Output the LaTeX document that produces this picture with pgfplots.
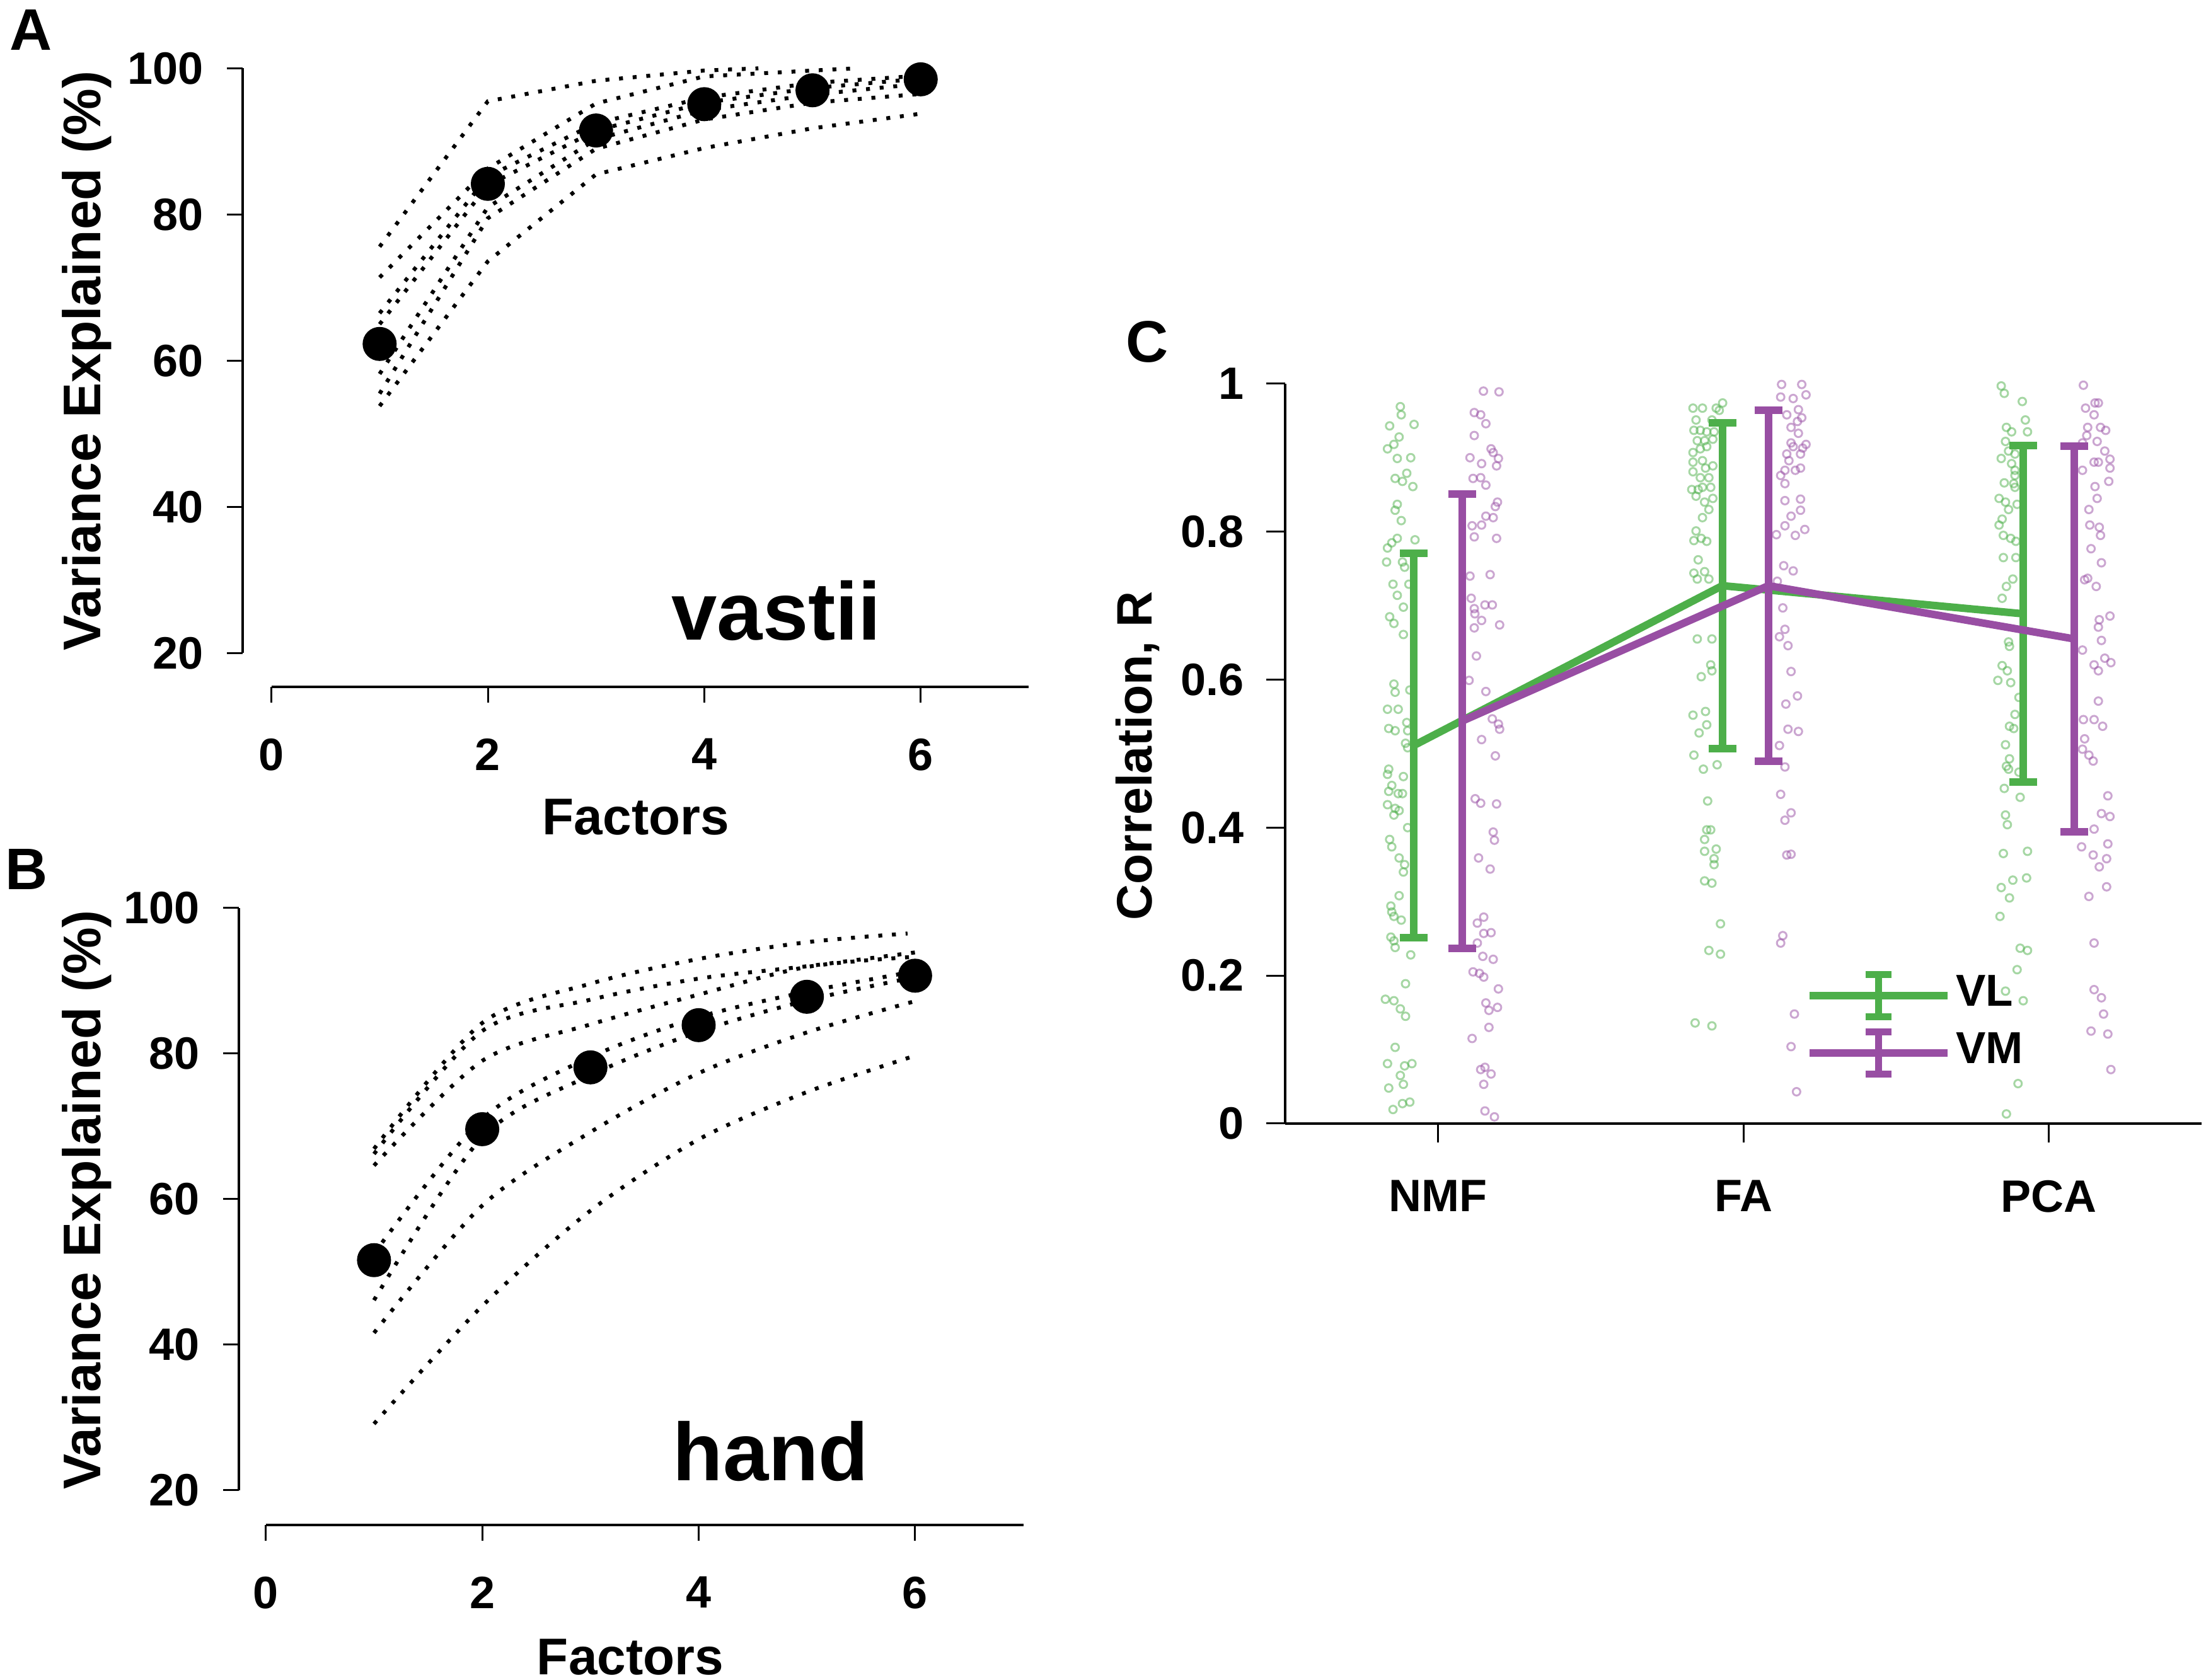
\documentclass[border=0pt]{standalone}
\usepackage{fontspec}
\setmainfont{Liberation Sans}
\usepackage{pgfplots}
\usepackage{pgfplotstable}
\pgfplotsset{compat=1.18}
\definecolor{vlgreen}{HTML}{4DAF4A}
\definecolor{vmpurple}{HTML}{984EA3}

% ---------- jittered raw correlations (panel C) ----------
\pgfplotstableread{
x y
0.877 0.969
0.880 0.958
0.842 0.943
0.922 0.945
0.873 0.928
0.856 0.918
0.835 0.912
0.867 0.899
0.911 0.900
0.898 0.879
0.860 0.872
0.884 0.868
0.918 0.861
0.867 0.837
0.860 0.829
0.880 0.815
0.925 0.789
0.867 0.791
0.849 0.785
0.835 0.778
0.832 0.759
0.884 0.759
0.891 0.752
0.853 0.729
0.905 0.729
0.867 0.714
0.887 0.698
0.842 0.685
0.856 0.676
0.887 0.661
0.856 0.594
0.860 0.583
0.908 0.586
0.835 0.560
0.870 0.560
0.839 0.534
0.860 0.531
0.898 0.542
0.901 0.531
0.894 0.514
0.901 0.508
0.839 0.479
0.835 0.472
0.887 0.469
0.849 0.457
0.839 0.449
0.870 0.446
0.884 0.446
0.835 0.431
0.860 0.426
0.873 0.423
0.856 0.417
0.901 0.400
0.842 0.384
0.849 0.374
0.873 0.359
0.891 0.350
0.887 0.340
0.873 0.308
0.846 0.294
0.849 0.286
0.856 0.280
0.880 0.275
0.846 0.252
0.856 0.247
0.860 0.238
0.911 0.228
0.894 0.189
0.828 0.168
0.856 0.166
0.877 0.155
0.894 0.145
0.860 0.103
0.835 0.081
0.891 0.078
0.915 0.081
0.877 0.065
0.887 0.053
0.839 0.048
0.853 0.019
0.884 0.027
0.908 0.029
}\nmfvl

\pgfplotstableread{
x y
1.149 0.990
1.200 0.989
1.119 0.961
1.140 0.958
1.157 0.946
1.119 0.930
1.174 0.912
1.181 0.907
1.198 0.899
1.105 0.900
1.143 0.892
1.115 0.872
1.140 0.873
1.157 0.863
1.192 0.889
1.195 0.840
1.188 0.834
1.157 0.821
1.181 0.819
1.143 0.809
1.112 0.808
1.119 0.793
1.192 0.791
1.105 0.740
1.171 0.742
1.109 0.710
1.119 0.696
1.121 0.689
1.154 0.701
1.178 0.701
1.143 0.680
1.119 0.670
1.202 0.674
1.126 0.632
1.102 0.599
1.157 0.584
1.178 0.547
1.198 0.540
1.202 0.533
1.143 0.519
1.188 0.497
1.122 0.439
1.140 0.433
1.192 0.432
1.181 0.394
1.185 0.383
1.133 0.359
1.171 0.344
1.129 0.271
1.150 0.279
1.150 0.257
1.174 0.258
1.129 0.244
1.147 0.226
1.181 0.222
1.115 0.205
1.136 0.203
1.150 0.198
1.198 0.182
1.157 0.163
1.167 0.153
1.195 0.157
1.167 0.130
1.112 0.115
1.140 0.073
1.154 0.076
1.174 0.067
1.150 0.053
1.154 0.017
1.185 0.009
}\nmfvm

\pgfplotstableread{
x y
1.835 0.967
1.866 0.967
1.911 0.967
1.932 0.974
1.921 0.964
1.845 0.951
1.897 0.951
1.838 0.937
1.859 0.937
1.880 0.935
1.904 0.935
1.849 0.923
1.873 0.923
1.900 0.925
1.859 0.912
1.835 0.907
1.880 0.915
1.866 0.896
1.835 0.894
1.876 0.886
1.900 0.889
1.835 0.881
1.859 0.873
1.887 0.873
1.831 0.857
1.852 0.857
1.866 0.860
1.893 0.860
1.845 0.848
1.873 0.840
1.900 0.845
1.887 0.830
1.866 0.819
1.845 0.801
1.838 0.788
1.862 0.791
1.880 0.787
1.852 0.762
1.838 0.744
1.873 0.746
1.849 0.736
1.887 0.736
1.849 0.655
1.897 0.655
1.862 0.604
1.893 0.620
1.897 0.612
1.835 0.552
1.876 0.557
1.880 0.539
1.855 0.528
1.838 0.498
1.869 0.479
1.914 0.485
1.883 0.436
1.880 0.397
1.893 0.397
1.873 0.384
1.873 0.368
1.911 0.371
1.904 0.358
1.904 0.350
1.873 0.328
1.897 0.325
1.925 0.270
1.887 0.234
1.925 0.229
1.842 0.136
1.897 0.132
}\favl

\pgfplotstableread{
x y
2.125 0.999
2.191 0.999
2.122 0.982
2.163 0.980
2.205 0.985
2.142 0.958
2.180 0.965
2.191 0.954
2.156 0.941
2.177 0.949
2.180 0.933
2.156 0.920
2.163 0.915
2.194 0.913
2.187 0.905
2.205 0.918
2.142 0.905
2.149 0.896
2.136 0.883
2.170 0.883
2.187 0.886
2.122 0.876
2.136 0.865
2.136 0.842
2.187 0.844
2.187 0.829
2.156 0.821
2.136 0.808
2.201 0.803
2.170 0.795
2.108 0.796
2.132 0.754
2.163 0.747
2.111 0.733
2.129 0.697
2.136 0.668
2.118 0.658
2.146 0.646
2.156 0.611
2.177 0.578
2.139 0.567
2.146 0.533
2.180 0.530
2.118 0.511
2.136 0.482
2.122 0.445
2.156 0.420
2.136 0.410
2.142 0.363
2.156 0.364
2.129 0.254
2.122 0.244
2.167 0.148
2.156 0.104
2.174 0.043
}\favm

\pgfplotstableread{
x y
2.844 0.997
2.854 0.987
2.913 0.976
2.923 0.951
2.861 0.941
2.878 0.935
2.930 0.935
2.858 0.922
2.868 0.909
2.889 0.905
2.844 0.899
2.878 0.892
2.889 0.883
2.889 0.876
2.854 0.866
2.885 0.865
2.889 0.860
2.837 0.845
2.858 0.840
2.868 0.830
2.847 0.817
2.837 0.809
2.896 0.837
2.851 0.795
2.875 0.791
2.892 0.787
2.851 0.765
2.892 0.765
2.882 0.736
2.861 0.726
2.847 0.710
2.868 0.651
2.871 0.645
2.847 0.619
2.833 0.599
2.864 0.612
2.875 0.596
2.902 0.576
2.889 0.553
2.871 0.537
2.885 0.534
2.858 0.512
2.871 0.493
2.861 0.483
2.868 0.479
2.902 0.475
2.854 0.453
2.906 0.441
2.858 0.417
2.864 0.404
2.851 0.365
2.930 0.368
2.882 0.329
2.871 0.305
2.844 0.319
2.927 0.332
2.840 0.280
2.906 0.237
2.930 0.234
2.896 0.208
2.858 0.179
2.916 0.166
2.899 0.054
2.861 0.013
}\pcavl

\pgfplotstableread{
x y
3.113 0.998
3.120 0.967
3.151 0.974
3.162 0.974
3.148 0.958
3.127 0.941
3.169 0.941
3.186 0.937
3.124 0.930
3.158 0.922
3.110 0.920
3.183 0.909
3.200 0.898
3.162 0.894
3.148 0.894
3.110 0.883
3.200 0.886
3.196 0.868
3.151 0.861
3.158 0.845
3.131 0.830
3.134 0.809
3.165 0.806
3.169 0.795
3.138 0.777
3.172 0.758
3.117 0.735
3.127 0.737
3.155 0.726
3.165 0.681
3.162 0.671
3.200 0.686
3.172 0.653
3.110 0.640
3.148 0.620
3.162 0.612
3.183 0.629
3.203 0.623
3.162 0.571
3.113 0.546
3.148 0.546
3.176 0.537
3.117 0.520
3.110 0.506
3.131 0.498
3.145 0.490
3.193 0.443
3.172 0.419
3.200 0.415
3.148 0.398
3.107 0.374
3.145 0.363
3.165 0.347
3.193 0.378
3.189 0.358
3.189 0.320
3.131 0.307
3.148 0.244
3.148 0.181
3.172 0.170
3.179 0.148
3.138 0.125
3.193 0.121
3.203 0.073
}\pcavm

\pgfplotsset{
  rstyle/.style={
    scale only axis, clip=false,
    axis x line*=bottom, axis y line*=left,
    axis line style={draw=none},
    tick align=outside, major tick length=2.5pt,
    every tick/.style={black, line width=0.3pt},
    /pgf/number format/assume math mode=true,
    tick label style={font=\bfseries\fontsize{7.2}{8}\selectfont},
    xticklabel style={anchor=north, inner sep=0pt},
    yticklabel style={anchor=east, inner sep=0pt},
    xticklabel shift=5.5pt, yticklabel shift=3.5pt,
    xtick={0,2,4,6}, ytick={20,40,60,80,100},
    xlabel style={anchor=base, font=\bfseries\fontsize{8.2}{9}\selectfont},
    ylabel style={anchor=center, font=\bfseries\fontsize{8.4}{9}\selectfont},
  },
  subj/.style={black, line width=0.62pt, dash pattern=on 0.62pt off 1.55pt, mark=none},
  meanpt/.style={black, only marks, mark=*, mark size=2.5pt},
  jit/.style={only marks, mark=o, mark size=0.6pt, opacity=0.5,
    mark options={line width=0.3pt}, forget plot},
}

\begin{document}
\begin{tikzpicture}
\useasboundingbox (0,0) rectangle (350pt,266.6pt);

% ================= Panel A =================
\begin{axis}[rstyle, at={(38.5pt,157.6pt)}, anchor=south west,
  width=124.75pt, height=98.15pt,
  xmin=-0.2656, xmax=7, ymin=15.39, ymax=100,
  xlabel={Factors}, ylabel={Variance Explained (\%)},
  xlabel style={at={(axis description cs:0.5002,-0.2394)}},
  ylabel style={at={(axis description cs:-0.198,0.527)}},
]
\draw[line width=0.45pt] (axis cs:-0.2656,20) -- (axis cs:-0.2656,100);
\draw[line width=0.45pt] (axis cs:0,15.39) -- (axis cs:7,15.39);
\addplot[subj] coordinates {(1,75.6) (2,95.5) (3,98.3) (4,99.7) (4.5,100)};
\addplot[subj] coordinates {(1,71.4) (2,86.3) (3,95.2) (4,98.9) (5,99.7) (5.4,100)};
\addplot[subj] coordinates {(1,66.5) (2,85.2) (3,92.5) (4,96.0) (5,98.0) (6,99.0)};
\addplot[subj] coordinates {(1,65.0) (2,84.0) (3,91.5) (4,95.3) (5,97.3) (6,98.6)};
\addplot[subj] coordinates {(1,58.2) (2,81.0) (3,90.3) (4,94.3) (5,96.4) (6,97.9)};
\addplot[subj] coordinates {(1,55.5) (2,79.5) (3,89.0) (4,93.0) (5,95.3) (6,96.5)};
\addplot[subj] coordinates {(1,53.8) (2,73.6) (3,85.5) (4,89.1) (5,91.8) (6,93.8)};
\addplot[meanpt] coordinates {(1,62.3) (2,84.2) (3,91.5) (4,95.1) (5,97.0) (6,98.5)};
\node[anchor=base, font=\bfseries\fontsize{13}{15}\selectfont] at (axis cs:4.667,21.85) {vastii};
\end{axis}

% ================= Panel B =================
\begin{axis}[rstyle, at={(37.9pt,24.6pt)}, anchor=south west,
  width=124.46pt, height=97.9pt,
  xmin=-0.2487, xmax=7, ymin=15.2, ymax=100,
  xlabel={Factors}, ylabel={Variance Explained (\%)},
  xlabel style={at={(axis description cs:0.499,-0.2431)}},
  ylabel style={at={(axis description cs:-0.1936,0.527)}},
]
\draw[line width=0.45pt] (axis cs:-0.2487,20) -- (axis cs:-0.2487,100);
\draw[line width=0.45pt] (axis cs:0,15.2) -- (axis cs:7,15.2);
\addplot[subj, smooth] coordinates {(1,66.9) (2,84.2) (3,89.6) (4,93.0) (5,95.3) (5.93,96.5)};
\addplot[subj, smooth] coordinates {(1,66.2) (2,83.1) (3,87.4) (4,90.3) (5,92.0) (6,93.9)};
\addplot[subj, smooth] coordinates {(1,64.6) (2,79.0) (3,84.0) (4,88.1) (5,91.9) (6,93.3)};
\addplot[subj, smooth] coordinates {(1,52.5) (2,71.0) (3,79.5) (4,85.0) (5,88.5) (6,91.3)};
\addplot[subj, smooth] coordinates {(1,46.1) (2,68.5) (3,77.0) (4,83.0) (5,87.3) (6,90.5)};
\addplot[subj, smooth] coordinates {(1,41.6) (2,59.1) (3,69.2) (4,77.3) (5,82.9) (6,87.2)};
\addplot[subj, smooth] coordinates {(1,29.1) (2,45.3) (3,58.4) (4,68.2) (5,74.7) (6,79.7)};
\addplot[meanpt] coordinates {(1,51.6) (2,69.6) (3,78.1) (4,83.9) (5,87.8) (6,90.7)};
\node[anchor=base, font=\bfseries\fontsize{13}{15}\selectfont] at (axis cs:4.667,21.27) {hand};
\end{axis}

% ================= Panel C =================
\begin{axis}[scale only axis, clip=false,
  at={(203.9pt,88.3pt)}, anchor=south west,
  width=145.4pt, height=117.4pt,
  xmin=0.5, xmax=3.5, ymin=0, ymax=1,
  axis x line*=bottom, axis y line*=left,
  axis line style={line width=0.45pt},
  tick align=outside, major tick length=3pt,
  every tick/.style={black, line width=0.3pt},
  /pgf/number format/assume math mode=true,
  tick label style={font=\bfseries\fontsize{7.2}{8}\selectfont},
  xticklabel style={anchor=north, inner sep=0pt},
  yticklabel style={anchor=east, inner sep=0pt},
  xticklabel shift=5.8pt, yticklabel shift=3.3pt,
  xtick={1,2,3}, xticklabels={NMF,FA,PCA},
  ytick={0,0.2,0.4,0.6,0.8,1},
  ylabel={Correlation, R},
  ylabel style={at={(axis description cs:-0.161,0.497)}, anchor=center,
    font=\bfseries\fontsize{7.9}{9}\selectfont},
  legend style={at={(axis cs:2.2007,0.2078)}, anchor=north west,
    draw=none, fill=none, inner sep=0pt, row sep=1.26pt, column sep=0.7pt,
    nodes={inner sep=0pt},
    font=\bfseries\fontsize{7.1}{8}\selectfont},
  legend cell align=left,
  legend image code/.code={
    \draw[#1, line width=1.2pt] (0pt,0pt) -- (21.9pt,0pt);
    \draw[#1, line width=1.1pt] (10.95pt,-3.35pt) -- (10.95pt,3.35pt);
    \draw[#1, line width=1.1pt] (8.9pt,-3.35pt) -- (13.0pt,-3.35pt);
    \draw[#1, line width=1.1pt] (8.9pt,3.35pt) -- (13.0pt,3.35pt);
  },
]
\addplot[jit, vlgreen] table {\nmfvl};
\addplot[jit, vmpurple] table {\nmfvm};
\addplot[jit, vlgreen] table {\favl};
\addplot[jit, vmpurple] table {\favm};
\addplot[jit, vlgreen] table {\pcavl};
\addplot[jit, vmpurple] table {\pcavm};

\addplot[vlgreen, line width=1.2pt, mark=none,
  error bars/.cd, y dir=both, y explicit,
  error mark=-, error mark options={rotate=90, vlgreen, line width=1.2pt, mark size=2.2pt},
  error bar style={vlgreen, line width=1.2pt}]
  coordinates {(0.921,0.511) +- (0,0.260) (1.931,0.727) +- (0,0.220) (2.917,0.689) +- (0,0.2275)};
\addplot[vmpurple, line width=1.2pt, mark=none,
  error bars/.cd, y dir=both, y explicit,
  error mark=-, error mark options={rotate=90, vmpurple, line width=1.2pt, mark size=2.2pt},
  error bar style={vmpurple, line width=1.2pt}]
  coordinates {(1.079,0.544) +- (0,0.307) (2.082,0.727) +- (0,0.237) (3.084,0.655) +- (0,0.261)};
\legend{VL, VM}
\end{axis}

% panel letters
\node[anchor=base, font=\bfseries\fontsize{9.3}{10}\selectfont] at (4.9pt,258.6pt) {A};
\node[anchor=base, font=\bfseries\fontsize{9.3}{10}\selectfont] at (4.2pt,125.4pt) {B};
\node[anchor=base, font=\bfseries\fontsize{9.3}{10}\selectfont] at (182pt,209.1pt) {C};
\end{tikzpicture}
\end{document}
